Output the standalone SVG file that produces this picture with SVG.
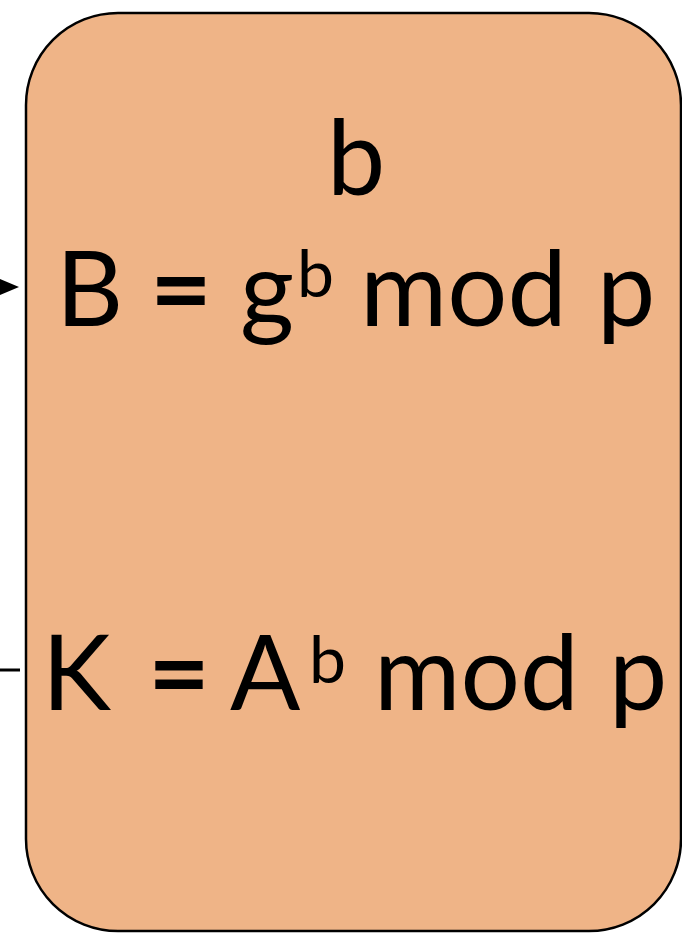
<svg xmlns="http://www.w3.org/2000/svg" width="682" height="933" viewBox="0 0 682 933">
  <style>
    .box { fill: #EFB487; stroke: #000; stroke-width: 2.5; }
    .t { font-family: Lato, "Open Sans", "Liberation Sans", sans-serif; fill: #000; font-size: 104px; }
    .eq { font-family: Lato, "Open Sans", "Liberation Sans", sans-serif; fill: #000; font-size: 104px; font-weight: bold; }
    .sup { font-family: Lato, "Open Sans", "Liberation Sans", sans-serif; fill: #000; font-size: 66px; }
    .conn { stroke: #000; stroke-width: 3; fill: none; }
  </style>
  <g id="connectors">
    <line class="conn" x1="-5" y1="287" x2="4" y2="287"/>
    <polygon points="0,279 19,287 0,295" fill="#000"/>
    <line class="conn" x1="-5" y1="670" x2="20" y2="670"/>
  </g>
  <g id="node-bob">
    <rect class="box" x="26" y="13" width="655" height="918" rx="92" ry="92"/>
    <text class="t" x="356" y="195" text-anchor="middle">b</text>
    <text class="t" x="56" y="326">B</text>
    <text class="eq" x="150" y="326" textLength="62" lengthAdjust="spacingAndGlyphs">=</text>
    <text class="t" x="240" y="326">g</text>
    <text class="sup" x="297" y="297">b</text>
    <text class="t" x="360" y="326" textLength="207" lengthAdjust="spacingAndGlyphs">mod</text>
    <text class="t" x="597" y="326">p</text>
    <text class="t" x="42" y="710">K</text>
    <text class="eq" x="148" y="710" textLength="62" lengthAdjust="spacingAndGlyphs">=</text>
    <text class="t" x="230" y="710">A</text>
    <text class="sup" x="309" y="683">b</text>
    <text class="t" x="374" y="710" textLength="205" lengthAdjust="spacingAndGlyphs">mod</text>
    <text class="t" x="609" y="710">p</text>
  </g>
</svg>
